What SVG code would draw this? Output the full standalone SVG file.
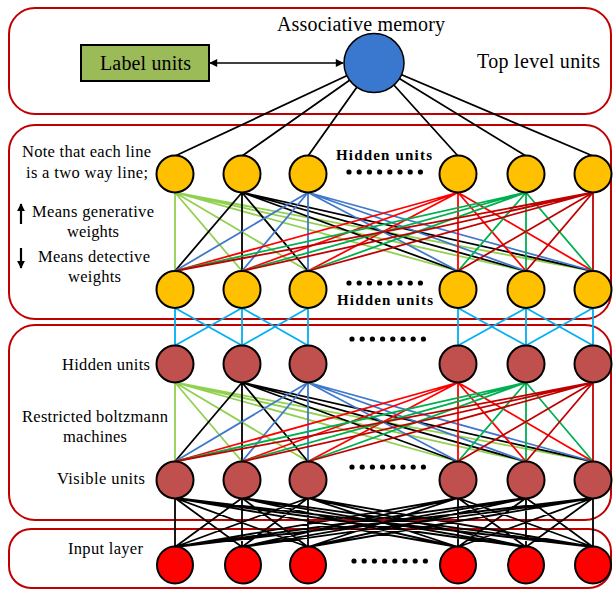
<svg xmlns="http://www.w3.org/2000/svg" xmlns:xlink="http://www.w3.org/1999/xlink" width="613" height="590" viewBox="0 0 613 590">
<style>
.box{fill:#fff;stroke:#C00000;stroke-width:2}
.t{font-family:"Liberation Serif","Times New Roman",serif;fill:#000}
.tb{font-family:"Liberation Serif","Times New Roman",serif;font-weight:bold;fill:#000}
.c{fill:none;stroke-width:1.8}
.lg{stroke:#92D050}.bk{stroke:#000}.bl{stroke:#4078CC}.rd{stroke:#FF0000}.gr{stroke:#00B050}.dr{stroke:#C00000}.cy{stroke:#00B0F0}
.ny{fill:#FFC000;stroke:#000;stroke-width:2}
.nb{fill:#C0504D;stroke:#000;stroke-width:2}
.nr{fill:#FF0000;stroke:#000;stroke-width:2}
</style>
<defs>
<marker id="ah" viewBox="0 0 10 10" refX="9" refY="5" markerWidth="9" markerHeight="8" markerUnits="userSpaceOnUse" orient="auto-start-reverse"><path d="M0 0L10 5L0 10Z" fill="#000"/></marker>
<marker id="ah2" viewBox="0 0 10 10" refX="9" refY="5" markerWidth="8" markerHeight="8" markerUnits="userSpaceOnUse" orient="auto"><path d="M0 0L10 5L0 10Z" fill="#000"/></marker>
<g id="dots" fill="#000"><circle cx="0" cy="0" r="2.6"/><circle cx="10.2" cy="0" r="2.6"/><circle cx="20.4" cy="0" r="2.6"/><circle cx="30.6" cy="0" r="2.6"/><circle cx="40.8" cy="0" r="2.6"/><circle cx="51" cy="0" r="2.6"/><circle cx="61.2" cy="0" r="2.6"/><circle cx="71.4" cy="0" r="2.6"/></g>
</defs>
<rect width="613" height="590" fill="#fff"/>
<g id="panels">
<rect class="box" x="9" y="8" width="602" height="106" rx="26"/>
<rect class="box" x="9" y="125" width="602" height="194" rx="26"/>
<rect class="box" x="9" y="325" width="602" height="195" rx="26"/>
<rect class="box" x="9" y="529" width="602" height="59" rx="22"/>
</g>
<g id="connectors">
<path class="c bk" d="M374 63L175 156M374 63L242 156M374 63L308 156M374 63L458 156M374 63L526 156M374 63L593 156"/>
<line x1="210" y1="63" x2="343" y2="63" stroke="#000" stroke-width="1.6" marker-start="url(#ah)" marker-end="url(#ah)"/>
<path class="c lg" d="M175 192.5L175 271M175 192.5L242 271M175 192.5L308 271M175 192.5L458 271M175 192.5L526 271M175 192.5L593 271"/>
<path class="c bk" d="M242 192.5L175 271M242 192.5L242 271M242 192.5L308 271M242 192.5L458 271M242 192.5L526 271M242 192.5L593 271"/>
<path class="c bl" d="M308 192.5L175 271M308 192.5L242 271M308 192.5L308 271M308 192.5L458 271M308 192.5L526 271M308 192.5L593 271"/>
<path class="c rd" d="M458 192.5L175 271M458 192.5L242 271M458 192.5L308 271M458 192.5L458 271M458 192.5L526 271M458 192.5L593 271"/>
<path class="c gr" d="M526 192.5L175 271M526 192.5L242 271M526 192.5L308 271M526 192.5L458 271M526 192.5L526 271M526 192.5L593 271"/>
<path class="c dr" d="M593 192.5L175 271M593 192.5L242 271M593 192.5L308 271M593 192.5L458 271M593 192.5L526 271M593 192.5L593 271"/>
<path class="c cy" d="M175 308L175 345.5M175 308L242 345.5M242 308L175 345.5M242 308L242 345.5M242 308L308 345.5M308 308L242 345.5M308 308L308 345.5M458 308L458 345.5M458 308L526 345.5M526 308L458 345.5M526 308L526 345.5M526 308L593 345.5M593 308L526 345.5M593 308L593 345.5"/>
<path class="c lg" d="M175 382.5L175 461.5M175 382.5L242 461.5M175 382.5L308 461.5M175 382.5L458 461.5M175 382.5L526 461.5M175 382.5L593 461.5"/>
<path class="c bk" d="M242 382.5L175 461.5M242 382.5L242 461.5M242 382.5L308 461.5M242 382.5L458 461.5M242 382.5L526 461.5M242 382.5L593 461.5"/>
<path class="c bl" d="M308 382.5L175 461.5M308 382.5L242 461.5M308 382.5L308 461.5M308 382.5L458 461.5M308 382.5L526 461.5M308 382.5L593 461.5"/>
<path class="c rd" d="M458 382.5L175 461.5M458 382.5L242 461.5M458 382.5L308 461.5M458 382.5L458 461.5M458 382.5L526 461.5M458 382.5L593 461.5"/>
<path class="c gr" d="M526 382.5L175 461.5M526 382.5L242 461.5M526 382.5L308 461.5M526 382.5L458 461.5M526 382.5L526 461.5M526 382.5L593 461.5"/>
<path class="c dr" d="M593 382.5L175 461.5M593 382.5L242 461.5M593 382.5L308 461.5M593 382.5L458 461.5M593 382.5L526 461.5M593 382.5L593 461.5"/>
<path class="c bk" d="M175 498L175 547M175 498L242 547M175 498L308 547M175 498L458 547M175 498L526 547M175 498L593 547M242 498L175 547M242 498L242 547M242 498L308 547M242 498L458 547M242 498L526 547M242 498L593 547M308 498L175 547M308 498L242 547M308 498L308 547M308 498L458 547M308 498L526 547M308 498L593 547M458 498L175 547M458 498L242 547M458 498L308 547M458 498L458 547M458 498L526 547M458 498L593 547M526 498L175 547M526 498L242 547M526 498L308 547M526 498L458 547M526 498L526 547M526 498L593 547M593 498L175 547M593 498L242 547M593 498L308 547M593 498L458 547M593 498L526 547M593 498L593 547"/>
</g>
<g id="label-units"><rect x="81" y="45" width="128" height="36" fill="#9BBB59" stroke="#000" stroke-width="2"/><text class="t" x="100" y="70" font-size="20" textLength="91" lengthAdjust="spacing">Label units</text></g>
<g id="associative-memory"><ellipse cx="374" cy="63" rx="30" ry="29.5" fill="#3A78D0" stroke="#000" stroke-width="1.5"/></g>
<g id="top-texts">
<text class="t" x="277" y="31" font-size="20" textLength="168" lengthAdjust="spacing">Associative memory</text>
<text class="t" x="477" y="68" font-size="20" textLength="123" lengthAdjust="spacing">Top level units</text>
<text class="t" x="22" y="157" font-size="16.5" textLength="129" lengthAdjust="spacing">Note that each line</text>
<text class="t" x="26" y="178" font-size="16.5" textLength="122" lengthAdjust="spacing">is a two way line;</text>
<text class="t" x="32" y="217" font-size="16.5" textLength="122" lengthAdjust="spacing">Means generative</text>
<text class="t" x="67" y="237" font-size="16.5" textLength="52" lengthAdjust="spacing">weights</text>
<text class="t" x="38" y="262" font-size="16.5" textLength="112" lengthAdjust="spacing">Means detective</text>
<text class="t" x="68" y="282" font-size="16.5" textLength="53" lengthAdjust="spacing">weights</text>
<text class="tb" x="336" y="160" font-size="15" textLength="96" lengthAdjust="spacing">Hidden units</text>
<text class="tb" x="337" y="305" font-size="15" textLength="96" lengthAdjust="spacing">Hidden units</text>
<text class="t" x="62" y="370" font-size="16.5" textLength="88" lengthAdjust="spacing">Hidden units</text>
<text class="t" x="22" y="422" font-size="16.5" textLength="146" lengthAdjust="spacing">Restricted boltzmann</text>
<text class="t" x="63" y="442" font-size="16.5" textLength="64" lengthAdjust="spacing">machines</text>
<text class="t" x="57" y="484" font-size="16.5" textLength="88" lengthAdjust="spacing">Visible units</text>
<text class="t" x="68" y="554" font-size="16.5" textLength="75" lengthAdjust="spacing">Input layer</text>
</g>
<g id="legend-arrows">
<line x1="21" y1="224" x2="21" y2="204" stroke="#000" stroke-width="2.2" marker-end="url(#ah2)"/>
<line x1="21" y1="248" x2="21" y2="268" stroke="#000" stroke-width="2.2" marker-end="url(#ah2)"/>
</g>
<g id="ellipsis">
<use xlink:href="#dots" x="349" y="172"/>
<use xlink:href="#dots" x="349" y="283"/>
<use xlink:href="#dots" x="352" y="339"/>
<use xlink:href="#dots" x="352" y="467"/>
<use xlink:href="#dots" x="354" y="561"/>
</g>
<g id="top-hidden">
<circle id="th1" class="ny" cx="175" cy="174" r="18.5"/><circle id="th2" class="ny" cx="242" cy="174" r="18.5"/><circle id="th3" class="ny" cx="308" cy="174" r="18.5"/><circle id="th4" class="ny" cx="458" cy="174" r="18.5"/><circle id="th5" class="ny" cx="526" cy="174" r="18.5"/><circle id="th6" class="ny" cx="593" cy="174" r="18.5"/>
</g>
<g id="bottom-hidden">
<circle id="bh1" class="ny" cx="175" cy="289.5" r="18.5"/><circle id="bh2" class="ny" cx="242" cy="289.5" r="18.5"/><circle id="bh3" class="ny" cx="308" cy="289.5" r="18.5"/><circle id="bh4" class="ny" cx="458" cy="289.5" r="18.5"/><circle id="bh5" class="ny" cx="526" cy="289.5" r="18.5"/><circle id="bh6" class="ny" cx="593" cy="289.5" r="18.5"/>
</g>
<g id="rbm-hidden">
<circle id="rh1" class="nb" cx="175" cy="364" r="18.5"/><circle id="rh2" class="nb" cx="242" cy="364" r="18.5"/><circle id="rh3" class="nb" cx="308" cy="364" r="18.5"/><circle id="rh4" class="nb" cx="458" cy="364" r="18.5"/><circle id="rh5" class="nb" cx="526" cy="364" r="18.5"/><circle id="rh6" class="nb" cx="593" cy="364" r="18.5"/>
</g>
<g id="rbm-visible">
<circle id="rv1" class="nb" cx="175" cy="480" r="18.5"/><circle id="rv2" class="nb" cx="242" cy="480" r="18.5"/><circle id="rv3" class="nb" cx="308" cy="480" r="18.5"/><circle id="rv4" class="nb" cx="458" cy="480" r="18.5"/><circle id="rv5" class="nb" cx="526" cy="480" r="18.5"/><circle id="rv6" class="nb" cx="593" cy="480" r="18.5"/>
</g>
<g id="input-layer">
<ellipse id="in1" class="nr" cx="175" cy="565" rx="18" ry="18.5"/><ellipse id="in2" class="nr" cx="243" cy="565" rx="18" ry="18.5"/><ellipse id="in3" class="nr" cx="308" cy="565" rx="18" ry="18.5"/><ellipse id="in4" class="nr" cx="458" cy="565" rx="18" ry="18.5"/><ellipse id="in5" class="nr" cx="526" cy="565" rx="18" ry="18.5"/><ellipse id="in6" class="nr" cx="593" cy="565" rx="18" ry="18.5"/>
</g>
</svg>
